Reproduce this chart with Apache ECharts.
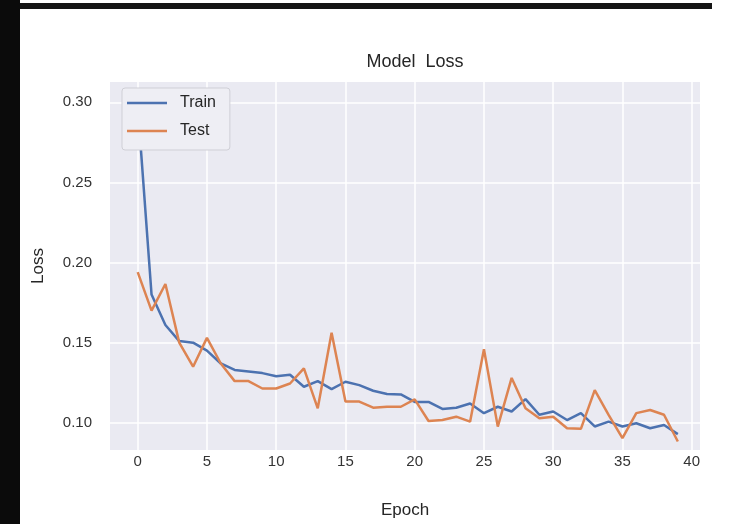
<!DOCTYPE html>
<html>
<head>
<meta charset="utf-8">
<script src="https://cdn.jsdelivr.net/npm/echarts@6/dist/echarts.min.js"></script>
<style>
  html, body { margin: 0; padding: 0; background: #fff; }
  #chart { width: 730px; height: 524px; }
</style>
</head>
<body>
<div id="chart"></div>
<script>
// epochs 0..39
const epochs = Array.from({ length: 40 }, (_, i) => i);

const trainLoss = [
  0.298, 0.180, 0.161, 0.151, 0.150, 0.145, 0.137, 0.133, 0.132, 0.131,
  0.129, 0.130, 0.1225, 0.126, 0.121, 0.1256, 0.1235, 0.120, 0.118, 0.1177,
  0.113, 0.113, 0.1086, 0.1094, 0.112, 0.106, 0.110, 0.107, 0.1148, 0.105,
  0.107, 0.1017, 0.106, 0.0977, 0.1007, 0.0977, 0.0997, 0.0966, 0.0986, 0.0929
];

const testLoss = [
  0.194, 0.170, 0.1866, 0.150, 0.135, 0.153, 0.137, 0.126, 0.126, 0.1214,
  0.1214, 0.1245, 0.134, 0.109, 0.1562, 0.1132, 0.1132, 0.1094, 0.110, 0.110,
  0.1146, 0.1011, 0.1017, 0.1038, 0.1007, 0.1459, 0.0976, 0.128, 0.109, 0.1028,
  0.1038, 0.0966, 0.0962, 0.1204, 0.1049, 0.0904, 0.106, 0.108, 0.105, 0.0883
];

const xTicks = [0, 5, 10, 15, 20, 25, 30, 35, 40];
const yTicks = [0.10, 0.15, 0.20, 0.25, 0.30];

const chart = echarts.init(document.getElementById('chart'));

const textFont = 'Liberation Sans, Arial, sans-serif';

const option = {
  backgroundColor: '#fff',
  animation: false,
  // dark frame edges of the original screenshot
  graphic: [
    { type: 'rect', left: 0, top: 0, shape: { width: 20, height: 524 }, style: { fill: '#0b0b0b' } },
    { type: 'rect', left: 20, top: 3, shape: { width: 692, height: 6 }, style: { fill: '#151515' } }
  ],
  title: {
    text: 'Model  Loss',
    left: 410,
    textAlign: 'center',
    top: 48,
    textStyle: { fontFamily: textFont, fontSize: 18, fontWeight: 'normal', color: '#262626' }
  },
  legend: {
    orient: 'vertical',
    left: 122,
    top: 88,
    padding: [6, 14, 10, 5],
    itemGap: 10,
    itemWidth: 40,
    itemHeight: 2.5,
    icon: 'rect',
    backgroundColor: '#eeeef4',
    borderColor: '#cfcfd6',
    borderWidth: 1,
    borderRadius: 3,
    z: 10,
    textStyle: {
      fontFamily: textFont, fontSize: 16, color: '#262626',
      lineHeight: 18, padding: [0, 0, 0, 8]
    },
    data: ['Train', 'Test']
  },
  grid: {
    left: 110,
    right: 30,
    top: 82,
    bottom: 72,
    show: true,
    backgroundColor: '#EAEAF2',
    borderWidth: 0
  },
  xAxis: {
    type: 'value',
    min: -2,
    max: 40.6,
    name: 'Epoch',
    nameLocation: 'middle',
    nameGap: 52,
    nameTextStyle: { fontFamily: textFont, fontSize: 17, color: '#262626' },
    axisLine: { show: false },
    axisTick: { show: false },
    splitLine: { show: false },
    axisLabel: {
      fontFamily: textFont, fontSize: 15, color: '#333', margin: 4,
      customValues: xTicks
    }
  },
  yAxis: {
    type: 'value',
    min: 0.083,
    max: 0.3127,
    name: 'Loss',
    nameLocation: 'middle',
    nameGap: 63,
    nameTextStyle: { fontFamily: textFont, fontSize: 17, color: '#262626' },
    axisLine: { show: false },
    axisTick: { show: false },
    splitLine: { show: false },
    axisLabel: {
      fontFamily: textFont, fontSize: 15, color: '#333', margin: 18,
      customValues: yTicks,
      formatter: v => v.toFixed(2)
    }
  },
  series: [
    // white grid lines drawn as marklines from the tick arrays
    {
      type: 'line',
      data: [],
      silent: true,
      z: 1,
      markLine: {
        symbol: 'none',
        silent: true,
        z: 1,
        label: { show: false },
        lineStyle: { color: '#ffffff', width: 1.5, type: 'solid' },
        data: xTicks.map(t => ({ xAxis: t })).concat(yTicks.map(t => ({ yAxis: t })))
      }
    },
    {
      name: 'Train',
      type: 'line',
      symbol: 'none',
      data: epochs.map((e, i) => [e, trainLoss[i]]),
      lineStyle: { color: '#4C72B0', width: 2.5 },
      itemStyle: { color: '#4C72B0' },
      z: 3
    },
    {
      name: 'Test',
      type: 'line',
      symbol: 'none',
      data: epochs.map((e, i) => [e, testLoss[i]]),
      lineStyle: { color: '#DD8452', width: 2.5 },
      itemStyle: { color: '#DD8452' },
      z: 4
    }
  ]
};

chart.setOption(option);
</script>
</body>
</html>
